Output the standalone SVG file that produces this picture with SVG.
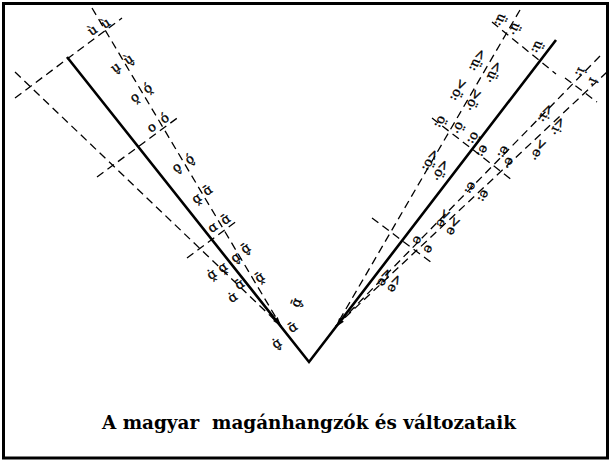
<svg xmlns="http://www.w3.org/2000/svg" width="611" height="463" viewBox="0 0 611 463">
<style>
.frame{fill:#fff;stroke:#000;stroke-width:3}
.solid{fill:none;stroke:#000;stroke-width:2.6;stroke-linejoin:miter}
.dash{fill:none;stroke:#000;stroke-width:1.3;stroke-dasharray:8 5}
.arr{fill:#000}
.l{font-family:"DejaVu Serif","Liberation Serif",serif;font-size:13px;text-anchor:middle;dominant-baseline:central;fill:#000;stroke:#000;stroke-width:0.35;text-rendering:geometricPrecision}
.title{font-family:"DejaVu Serif","Liberation Serif",serif;font-weight:bold;font-size:18px;fill:#000;white-space:pre}
</style>
<rect class="frame" x="3.5" y="3.5" width="604" height="454.5"/>

<g id="connectors">
  <path class="solid" d="M67,57 L309,362 L556,40"/>
  <path class="dash" d="M15,72 L281,326"/>
  <path class="dash" d="M92,8 L281,326"/>
  <path class="dash" d="M15,98 L122,18"/>
  <path class="dash" d="M97,177 L180,116"/>
  <path class="dash" d="M187,258 L238,220"/>
  <path class="dash" d="M520,10 L336,326"/>
  <path class="dash" d="M600,56 L336,326"/>
  <path class="dash" d="M607,72 L336,326"/>
  <path class="dash" d="M492,22 L556,74"/>
  <path class="dash" d="M432,118 L512,180"/>
  <path class="dash" d="M372,218 L432,263"/>
  <path class="dash" d="M565,78 L597,102"/>
  <polygon class="arr" points="281,326 273.1,320.9 277.7,317.1"/>
  <polygon class="arr" points="336,327 343.9,321.7 339.1,318.1"/>
</g>

<g id="back-vowels">
  <text class="l" transform="translate(93,31) rotate(-35)">ù</text>
  <text class="l" transform="translate(106,24) rotate(-35)">ù</text>
  <text class="l" transform="translate(116,68) rotate(-35)">u̬</text>
  <text class="l" transform="translate(129,60) rotate(-35)">ù̬</text>
  <text class="l" transform="translate(135,98) rotate(-35)">o̭</text>
  <text class="l" transform="translate(148,89) rotate(-35)">ó̭</text>
  <text class="l" transform="translate(152,128) rotate(-35)">o</text>
  <text class="l" transform="translate(165,119) rotate(-35)">ó</text>
  <text class="l" transform="translate(177,168) rotate(-35)">o̬</text>
  <text class="l" transform="translate(190,160) rotate(-35)">ó̬</text>
  <text class="l" transform="translate(197,199) rotate(-35)">ɑ̭</text>
  <text class="l" transform="translate(208,191) rotate(-35)">ɑ̄</text>
  <text class="l" transform="translate(213,228) rotate(-35)">ɑ</text>
  <text class="l" transform="translate(226,220) rotate(-35)">ɑ̄</text>
  <text class="l" transform="translate(236,258) rotate(-35)">ɑ̬</text>
  <text class="l" transform="translate(246,249) rotate(-35)">ɑ̬̄</text>
  <text class="l" transform="translate(212,275) rotate(-35)">ɑ̭̇</text>
  <text class="l" transform="translate(223,268) rotate(-35)">ɑ̭</text>
  <text class="l" transform="translate(240,285) rotate(-35)">ɑ̄</text>
  <text class="l" transform="translate(233,298) rotate(-35)">ɑ̇</text>
  <text class="l" transform="translate(260,278) rotate(-35)">ɑ̭̄</text>
  <text class="l" transform="translate(297,303) rotate(-70)">ɑ̬̄</text>
  <text class="l" transform="translate(293,328) rotate(-35)">ɑ̄</text>
  <text class="l" transform="translate(277,344) rotate(-35)">ɑ̬̇</text>
</g>

<g id="front-vowels">
  <text class="l" transform="translate(500,20) rotate(115)">ü:</text>
  <text class="l" transform="translate(514,29) rotate(115)">ü·</text>
  <text class="l" transform="translate(537,47) rotate(115)">ü:</text>
  <text class="l" transform="translate(477,60) rotate(115)">&lt;ü:</text>
  <text class="l" transform="translate(493,72) rotate(115)">&lt;ü·</text>
  <text class="l" transform="translate(458,90) rotate(115)">&gt;ö:</text>
  <text class="l" transform="translate(473,100) rotate(115)">&gt;ö·</text>
  <text class="l" transform="translate(440,122) rotate(115)">ö:</text>
  <text class="l" transform="translate(458,128) rotate(115)">ö·</text>
  <text class="l" transform="translate(473,138) rotate(115)">ö:</text>
  <text class="l" transform="translate(482,151) rotate(115)">e:</text>
  <text class="l" transform="translate(503,152) rotate(115)">e:</text>
  <text class="l" transform="translate(508,163) rotate(115)">e·</text>
  <text class="l" transform="translate(430,160) rotate(115)">&lt;ö:</text>
  <text class="l" transform="translate(440,170) rotate(115)">&lt;ö·</text>
  <text class="l" transform="translate(545,113) rotate(115)">&lt;i:</text>
  <text class="l" transform="translate(557,126) rotate(115)">&lt;i·</text>
  <text class="l" transform="translate(538,150) rotate(115)">&gt;e·</text>
  <text class="l" transform="translate(580,72) rotate(115)">i:</text>
  <text class="l" transform="translate(592,82) rotate(115)">i·</text>
  <text class="l" transform="translate(470,188) rotate(115)">e:</text>
  <text class="l" transform="translate(483,196) rotate(115)">e:</text>
  <text class="l" transform="translate(443,218) rotate(115)">&gt;e</text>
  <text class="l" transform="translate(453,226) rotate(115)">&gt;e</text>
  <text class="l" transform="translate(417,240) rotate(115)">e</text>
  <text class="l" transform="translate(428,249) rotate(115)">e</text>
  <text class="l" transform="translate(384,277) rotate(115)">&lt;e</text>
  <text class="l" transform="translate(394,283) rotate(115)">&lt;e</text>
</g>

<g id="caption">
  <text class="title" x="102" y="429" textLength="414" lengthAdjust="spacingAndGlyphs">A magyar  magánhangzók és változataik</text>
</g>
</svg>
